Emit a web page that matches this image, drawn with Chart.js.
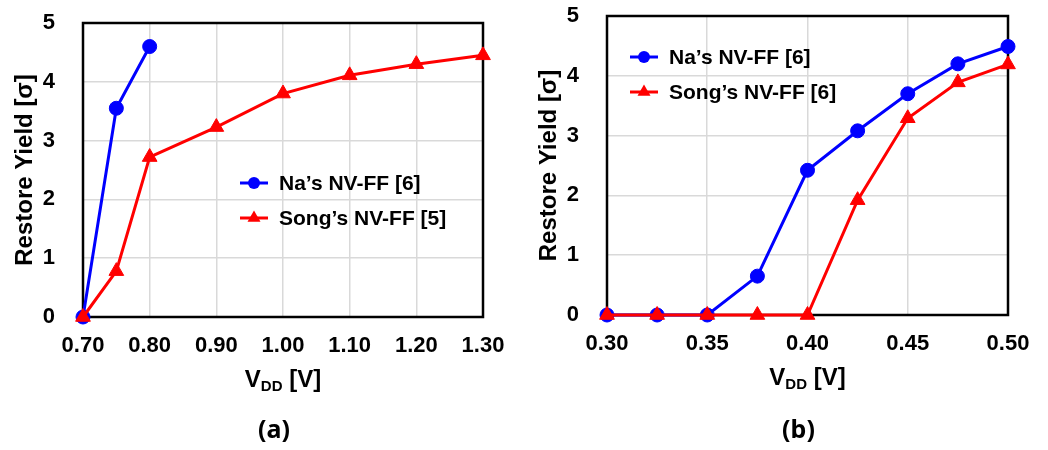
<!DOCTYPE html>
<html>
<head>
<meta charset="utf-8">
<script src="https://cdn.jsdelivr.net/npm/chart.js@4.4.1/dist/chart.umd.min.js"></script>
<style>
  body { margin: 0; background: #fff; }
  .panel { position: absolute; top: 0; }
</style>
</head>
<body>
<div class="panel" style="left:0px"><canvas id="chartA" width="520" height="450"></canvas></div>
<div class="panel" style="left:520px"><canvas id="chartB" width="528" height="450"></canvas></div>
<script>
// (a) data
var vddA = [0.70, 0.75, 0.80, 0.90, 1.00, 1.10, 1.20, 1.30];
var naYieldA = [0, 3.55, 4.6];
var songYieldA = [0, 0.78, 2.72, 3.23, 3.80, 4.11, 4.30, 4.45];

// (b) data
var vddB = [0.300, 0.325, 0.350, 0.375, 0.400, 0.425, 0.450, 0.475, 0.500];
var naYieldB = [0, 0, 0, 0.65, 2.42, 3.08, 3.70, 4.20, 4.49];
var songYieldB = [0, 0, 0, 0, 0, 1.92, 3.29, 3.89, 4.19];

var seriesNames = ["Na’s NV-FF [6]", "Song’s NV-FF [5]", "Song’s NV-FF [6]"];

var FONT = '"Liberation Sans", Arial, sans-serif';
var BLUE = '#0000ff';
var RED = '#ff0000';

function toPoints(xs, ys) {
    return ys.map(function(y, i) { return { x: xs[i], y: y }; });
}

function drawMarker(ctx, style, x, y, r, color) {
    ctx.fillStyle = color;
    ctx.beginPath();
    if (style === 'triangle') {
        ctx.moveTo(x, y - r);
        ctx.lineTo(x + r * 0.866, y + r * 0.5);
        ctx.lineTo(x - r * 0.866, y + r * 0.5);
        ctx.closePath();
    } else {
        ctx.arc(x, y, r, 0, Math.PI * 2);
    }
    ctx.fill();
}

// frame, legend, axis titles and panel label
var panelDeco = {
    id: 'panelDeco',
    beforeDatasetsDraw: function(chart) {
        var a = chart.chartArea, ctx = chart.ctx;
        ctx.save();
        ctx.strokeStyle = '#000';
        ctx.lineWidth = 2.5;
        ctx.strokeRect(a.left, a.top, a.right - a.left, a.bottom - a.top);
        ctx.restore();
    },
    afterDraw: function(chart, args, opts) {
        var a = chart.chartArea, ctx = chart.ctx;
        var cx = (a.left + a.right) / 2;
        ctx.save();

        // legend
        chart.data.datasets.forEach(function(ds, i) {
            var lx = a.left + opts.legendX;
            var ly = a.top + opts.legendY + i * 35;
            ctx.strokeStyle = ds.borderColor;
            ctx.lineWidth = 3;
            ctx.beginPath();
            ctx.moveTo(lx, ly);
            ctx.lineTo(lx + 28, ly);
            ctx.stroke();
            drawMarker(ctx, ds.pointStyle, lx + 14, ly, ds.pointStyle === 'triangle' ? 7.5 : 6, ds.borderColor);
            ctx.fillStyle = '#000';
            ctx.font = 'bold 21px ' + FONT;
            ctx.textAlign = 'left';
            ctx.textBaseline = 'middle';
            ctx.fillText(ds.label, lx + 39, ly + 1);
        });

        // y title
        ctx.save();
        ctx.translate(a.left - 58, (a.top + a.bottom) / 2);
        ctx.rotate(-Math.PI / 2);
        ctx.fillStyle = '#000';
        ctx.font = 'bold 24px ' + FONT;
        ctx.textAlign = 'center';
        ctx.textBaseline = 'middle';
        ctx.fillText('Restore Yield [σ]', 0, 0);
        ctx.restore();

        // x title with subscript
        var big = 'bold 24px ' + FONT, small = 'bold 15px ' + FONT;
        ctx.font = big;
        var w1 = ctx.measureText('V').width;
        var w3 = ctx.measureText(' [V]').width;
        ctx.font = small;
        var w2 = ctx.measureText('DD').width;
        var x0 = cx - (w1 + w2 + w3) / 2;
        var base = a.bottom + 70;
        ctx.fillStyle = '#000';
        ctx.textAlign = 'left';
        ctx.textBaseline = 'alphabetic';
        ctx.font = big;
        ctx.fillText('V', x0, base);
        ctx.font = small;
        ctx.fillText('DD', x0 + w1, base + 4);
        ctx.font = big;
        ctx.fillText(' [V]', x0 + w1 + w2, base);

        // panel label
        ctx.font = 'bold 25px "Noto Sans", sans-serif';
        ctx.textAlign = 'center';
        ctx.textBaseline = 'middle';
        ctx.fillText(opts.panel, cx - 9, 431);

        ctx.restore();
    }
};

function makeChart(id, xs, naYs, songYs, songName, xMin, xMax, xStep, pad, legendPos, panel) {
    var ctx = document.getElementById(id).getContext('2d');
    return new Chart(ctx, {
        type: 'line',
        data: {
            datasets: [{
                label: seriesNames[0],
                data: toPoints(xs, naYs),
                borderColor: BLUE,
                backgroundColor: BLUE,
                borderWidth: 3,
                pointStyle: 'circle',
                pointRadius: 7,
                pointBorderWidth: 1,
                clip: false,
                order: 1
            }, {
                label: songName,
                data: toPoints(xs, songYs),
                borderColor: RED,
                backgroundColor: RED,
                borderWidth: 3,
                pointStyle: 'triangle',
                pointRadius: 8.5,
                pointBorderWidth: 1,
                clip: false,
                order: 0
            }]
        },
        options: {
            responsive: false,
            animation: false,
            layout: { padding: pad },
            plugins: {
                legend: { display: false },
                tooltip: { enabled: false },
                panelDeco: { legendX: legendPos[0], legendY: legendPos[1], panel: panel }
            },
            scales: {
                x: {
                    type: 'linear',
                    min: xMin,
                    max: xMax,
                    afterFit: function(scale) { scale.height = 40; },
                    grid: { color: '#d9d9d9', lineWidth: 1.5, drawTicks: true, tickLength: 16, tickColor: 'rgba(0,0,0,0)' },
                    border: { display: false },
                    ticks: {
                        stepSize: xStep,
                        autoSkip: false,
                        maxRotation: 0,
                        padding: 0,
                        color: '#000',
                        font: { family: FONT, size: 22, weight: 'bold' },
                        callback: function(v) { return Number(v).toFixed(2); }
                    }
                },
                y: {
                    min: 0,
                    max: 5,
                    afterFit: function(scale) { scale.width = pad.yWidth; },
                    grid: { color: '#d9d9d9', lineWidth: 1.5, drawTicks: true, tickLength: 28, tickColor: 'rgba(0,0,0,0)' },
                    border: { display: false },
                    ticks: {
                        stepSize: 1,
                        padding: 0,
                        color: '#000',
                        font: { family: FONT, size: 22, weight: 'bold' }
                    }
                }
            }
        },
        plugins: [panelDeco]
    });
}

makeChart('chartA', vddA, naYieldA, songYieldA, seriesNames[1], 0.7, 1.3, 0.1,
    { left: 0, right: 37, top: 23, bottom: 93, yWidth: 83 }, [157, 160], '(a)');
makeChart('chartB', vddB, naYieldB, songYieldB, seriesNames[2], 0.3, 0.5, 0.05,
    { left: 0, right: 40, top: 16, bottom: 95, yWidth: 87 }, [23, 41], '(b)');
</script>
</body>
</html>
